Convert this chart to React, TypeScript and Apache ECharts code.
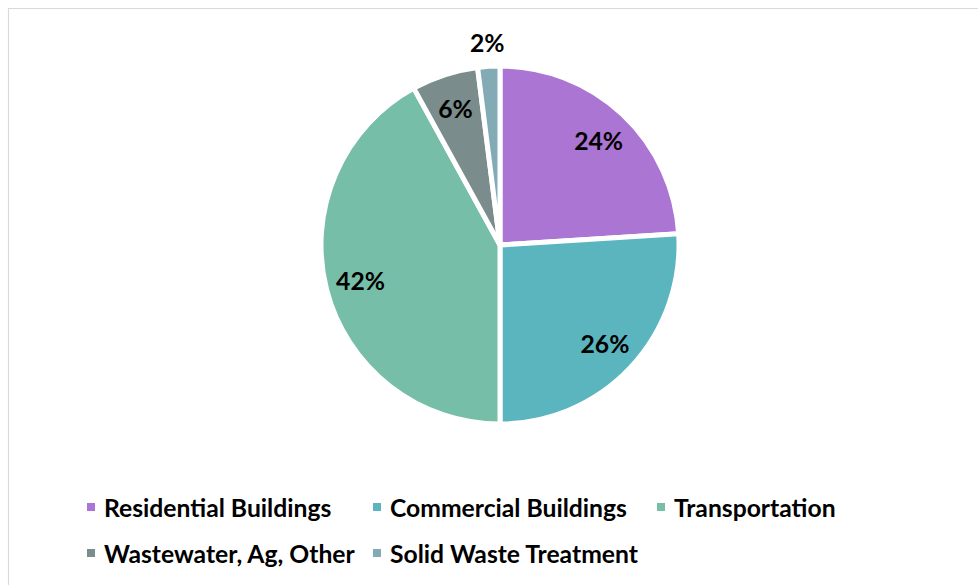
import React, { useEffect, useRef } from "react";
import * as echarts from "echarts";

const categories = [
  "Residential Buildings",
  "Commercial Buildings",
  "Transportation",
  "Wastewater, Ag, Other",
  "Solid Waste Treatment",
];
const shares = [24, 26, 42, 6, 2];
const colors = ["#AB75D3", "#5AB5BF", "#77BEA8", "#7B8C8C", "#82ABB5"];
// legend columns (indices into categories)
const legendColumns = [[0, 3], [1, 4], [2]];
// labels drawn near the rim vs. outside the pie
const innerLabelItems = [0, 1, 2, 3];
const outerLabelItems = [4];

export default function App() {
  const ref = useRef<HTMLDivElement>(null);

  useEffect(() => {
    if (!ref.current) return;
    const chart = echarts.init(ref.current, null, { renderer: "svg" });
    const font = "Lato";
    const labelStyle = {
      color: "#000",
      fontFamily: font,
      fontWeight: "bold" as const,
      fontSize: 24.7,
      textBorderWidth: 0,
    };
    const center = [500, 245];

    const overlay = (radius: number, showIdx: number[]) => ({
      type: "pie",
      silent: true,
      center,
      radius: [0, radius],
      startAngle: 90,
      clockwise: true,
      avoidLabelOverlap: false,
      z: 5,
      itemStyle: { color: "rgba(0,0,0,0)", borderWidth: 0 },
      labelLine: { show: false },
      emphasis: { disabled: true },
      label: { show: true, position: "inside", formatter: "{c}%", ...labelStyle },
      data: categories.map((name, i) => ({
        name,
        value: shares[i],
        label: { show: showIdx.includes(i) },
      })),
    });

    const legendLefts = [85, 371, 655];

    chart.setOption({
      animation: false,
      backgroundColor: "#fff",
      legend: legendColumns.map((col, k) => ({
        orient: "vertical",
        left: legendLefts[k],
        top: 494,
        padding: 0,
        itemGap: 20,
        itemWidth: 10,
        itemHeight: 10,
        icon: "rect",
        selectedMode: false,
        data: col.map((i) => categories[i]),
        textStyle: {
          color: "#000",
          fontFamily: font,
          fontWeight: "bold",
          fontSize: 24.7,
          lineHeight: 26,
          padding: [0, 0, 0, 3],
        },
      })),
      graphic: [
        {
          type: "polyline",
          silent: true,
          shape: { points: [[8.5, 585], [8.5, 8.5], [978, 8.5]] },
          style: { stroke: "#D9D9D9", lineWidth: 1.2, fill: "none" },
        },
      ],
      series: [
        {
          type: "pie",
          center,
          radius: [0, 179],
          startAngle: 90,
          clockwise: true,
          avoidLabelOverlap: false,
          itemStyle: { borderColor: "#fff", borderWidth: 5 },
          label: { show: false },
          labelLine: { show: false },
          emphasis: { disabled: true },
          data: categories.map((name, i) => ({
            name,
            value: shares[i],
            itemStyle: { color: colors[i] },
          })),
        },
        overlay(282, innerLabelItems),
        overlay(400, outerLabelItems),
      ],
    });

    return () => chart.dispose();
  }, []);

  return (
    <div
      ref={ref}
      style={{ position: "fixed", left: 0, top: 0, width: 978, height: 585, background: "#fff" }}
    />
  );
}
